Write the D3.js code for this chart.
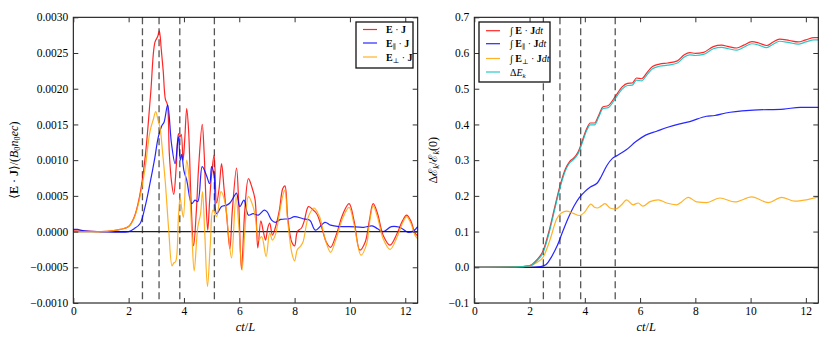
<html>
<script src='https://d3js.org/d3.v7.min.js'></script>
<style>
  body {margin:0; background:white;}
  text {font-family: 'Liberation Serif', 'DejaVu Serif', serif;}
</style>
<body>
<svg id="chart" width=830 height=346></svg>
<script>
// shared axis stuff
var tMax = 12.45;
var tickX = [0, 2, 4, 6, 8, 10, 12];
var markers = [2.5, 3.1, 3.85, 5.1];
var tickLeft = [-0.0010, -0.0005, 0, 0.0005, 0.0010, 0.0015, 0.0020, 0.0025, 0.0030];
var tickRight = [-0.1, 0, 0.1, 0.2, 0.3, 0.4, 0.5, 0.6, 0.7];

// left panel: <E.J>, values in units of 1e-4
var ejTotal = [[0,0.1],[0.5,0.05],[1.0,0],[1.4,0.1],[1.7,0.3],[2.0,0.7],[2.2,2.0],[2.4,5.0],[2.6,10.5],[2.8,19.5],[2.95,26.5],[3.05,27.3],[3.11,28.1],[3.18,25.5],[3.25,22.5],[3.33,18.5],[3.4,17.8],[3.47,11],[3.55,7.0],[3.63,5.2],[3.72,9],[3.8,13.7],[3.85,13.2],[3.9,13.6],[3.97,10],[4.03,13],[4.1,17.2],[4.17,14],[4.25,5],[4.35,-2.0],[4.45,3],[4.53,9],[4.66,15.0],[4.73,11],[4.8,4],[4.86,0.2],[4.93,4.4],[5.0,8],[5.09,10.7],[5.18,4],[5.27,6],[5.36,9.5],[5.45,6],[5.55,2],[5.66,-2.4],[5.75,3],[5.9,8.9],[5.98,4],[6.08,-5.3],[6.2,3],[6.33,7.4],[6.45,6.3],[6.57,4.5],[6.67,-2.3],[6.78,1.5],[6.87,0],[6.95,-1.2],[7.03,0.5],[7.1,1.2],[7.2,-0.5],[7.3,0.5],[7.45,3],[7.57,6],[7.65,6.4],[7.75,2],[7.9,-1.5],[8.0,-2.0],[8.1,0],[8.25,0.5],[8.35,1.5],[8.5,3.5],[8.65,3.1],[8.8,2.5],[9.0,0.3],[9.15,-1.5],[9.3,-2.2],[9.5,-0.5],[9.75,2.5],[9.97,3.9],[10.15,1.5],[10.36,-2.6],[10.55,-1.5],[10.7,1.5],[10.84,3.9],[11.0,2.5],[11.2,-0.5],[11.45,-1.9],[11.7,-0.3],[11.9,1.5],[12.05,2.3],[12.2,1.5],[12.35,-0.2],[12.45,-0.6]];
var ejPar = [[0,0.3],[0.15,0.3],[0.4,0.1],[1.0,0],[2.0,0],[2.2,0.4],[2.41,1.1],[2.59,3.4],[2.77,6.7],[2.95,10.4],[3.07,13.2],[3.2,14.8],[3.28,15.3],[3.41,17.7],[3.55,12.3],[3.68,9.5],[3.8,13.3],[3.87,10],[3.92,10.8],[4.0,8.5],[4.1,7.2],[4.28,3.9],[4.4,4.4],[4.5,4.2],[4.66,9.1],[4.81,7.9],[4.93,6.7],[5.0,9.1],[5.09,7.9],[5.18,2.5],[5.36,3.5],[5.55,3.7],[5.66,4],[5.84,5.1],[5.9,5.4],[6.02,3.5],[6.17,4.4],[6.33,2.3],[6.5,2.5],[6.69,2.3],[6.9,3.0],[7.0,2.8],[7.17,1.6],[7.3,1.3],[7.5,1.7],[7.8,1.8],[8.0,2.1],[8.3,1.8],[8.55,1.6],[8.75,0.2],[9.1,1.3],[9.3,0.9],[9.6,0.7],[10.0,0.7],[10.5,0.6],[10.8,0.8],[11.0,0.4],[11.2,0.0],[11.5,0.7],[11.8,0.6],[12.1,-0.1],[12.3,0.1],[12.45,0.7]];
var ejPerp = [[0,0],[1.0,0],[1.4,0.1],[1.7,0.3],[2.0,0.7],[2.2,1.9],[2.4,4.7],[2.6,9],[2.77,14],[2.9,15.8],[2.98,16.8],[3.07,15.5],[3.13,14.7],[3.23,11],[3.33,6.7],[3.45,0.2],[3.57,-4.8],[3.63,-4.4],[3.7,-4.2],[3.8,2],[3.86,4.7],[3.92,3.2],[3.98,2],[4.1,10],[4.16,8.6],[4.28,0.2],[4.37,-5.5],[4.5,0.6],[4.6,2.5],[4.67,5.6],[4.75,0],[4.85,-7.7],[4.95,-2],[5.05,3],[5.18,2.1],[5.34,5.6],[5.49,4],[5.6,0],[5.72,-3.7],[5.88,4.9],[5.98,1],[6.1,-5.4],[6.2,0],[6.33,4.9],[6.5,3.5],[6.6,1.5],[6.69,-1.2],[6.81,-0.7],[6.97,-3.5],[7.1,-0.2],[7.2,-1.2],[7.3,-0.5],[7.45,2.5],[7.57,5],[7.65,5.8],[7.75,1.5],[7.9,-3],[8.0,-4.1],[8.1,-2.5],[8.2,-2.1],[8.3,-1.5],[8.5,2.1],[8.7,3.3],[8.9,2.1],[9.1,-1],[9.3,-2.9],[9.5,-1],[9.75,2],[9.97,3.4],[10.15,1],[10.4,-3.3],[10.6,-1.8],[10.7,1],[10.84,3.6],[11.0,2],[11.2,-1],[11.45,-2.5],[11.7,-0.8],[11.9,1.2],[12.05,2.1],[12.2,1.2],[12.35,-0.5],[12.45,-1.0]];

// right panel: cumulative energy
var intTotal = [[0,0],[1.5,0.001],[2.0,0.005],[2.25,0.02],[2.5,0.048],[2.7,0.1],[2.9,0.165],[3.1,0.228],[3.3,0.276],[3.45,0.296],[3.6,0.306],[3.75,0.322],[3.9,0.352],[4.05,0.385],[4.2,0.404],[4.35,0.404],[4.5,0.425],[4.65,0.449],[4.85,0.453],[5.1,0.478],[5.35,0.505],[5.55,0.515],[5.72,0.516],[5.87,0.53],[6.05,0.528],[6.25,0.545],[6.45,0.562],[6.7,0.569],[7.0,0.572],[7.35,0.578],[7.6,0.595],[7.8,0.601],[8.0,0.599],[8.3,0.602],[8.65,0.618],[8.95,0.622],[9.2,0.618],[9.5,0.614],[9.75,0.622],[10.05,0.632],[10.3,0.628],[10.58,0.621],[10.8,0.63],[11.05,0.639],[11.4,0.635],[11.72,0.631],[12.0,0.637],[12.3,0.643],[12.45,0.643]];
var intPar = [[0,0],[2.0,0],[2.4,0.002],[2.6,0.008],[2.8,0.03],[3.0,0.06],[3.2,0.1],[3.4,0.138],[3.6,0.17],[3.8,0.195],[4.0,0.212],[4.2,0.225],[4.45,0.236],[4.6,0.255],[4.8,0.285],[5.0,0.305],[5.15,0.312],[5.5,0.329],[5.85,0.352],[6.2,0.37],[6.6,0.381],[7.0,0.392],[7.4,0.401],[7.8,0.408],[8.4,0.423],[8.7,0.425],[9.1,0.432],[10.1,0.44],[11.2,0.443],[11.8,0.448],[12.45,0.448]];
var intPerp = [[0,0],[1.5,0.001],[2.0,0.004],[2.25,0.013],[2.49,0.028],[2.74,0.077],[2.98,0.135],[3.15,0.152],[3.34,0.157],[3.58,0.151],[3.8,0.145],[4.0,0.155],[4.22,0.177],[4.35,0.168],[4.45,0.166],[4.6,0.172],[4.73,0.178],[4.91,0.166],[5.1,0.163],[5.33,0.175],[5.51,0.189],[5.75,0.175],[5.93,0.18],[6.1,0.171],[6.36,0.184],[6.66,0.189],[6.96,0.18],[7.32,0.175],[7.5,0.183],[7.74,0.196],[8.05,0.183],[8.41,0.181],[8.89,0.194],[9.43,0.183],[10.04,0.197],[10.64,0.181],[11.12,0.196],[11.6,0.185],[12.02,0.189],[12.45,0.197]];
var deltaEk = [[0,0],[1.5,0.001],[2.0,0.004],[2.25,0.017],[2.5,0.043],[2.7,0.094],[2.9,0.159],[3.1,0.222],[3.3,0.271],[3.45,0.292],[3.6,0.302],[3.75,0.317],[3.9,0.347],[4.05,0.38],[4.2,0.399],[4.35,0.399],[4.5,0.42],[4.65,0.444],[4.85,0.447],[5.1,0.472],[5.35,0.499],[5.55,0.509],[5.72,0.51],[5.87,0.524],[6.05,0.522],[6.25,0.539],[6.45,0.556],[6.7,0.563],[7.0,0.566],[7.35,0.572],[7.6,0.589],[7.8,0.595],[8.0,0.593],[8.3,0.596],[8.65,0.612],[8.95,0.616],[9.2,0.612],[9.5,0.608],[9.75,0.616],[10.05,0.626],[10.3,0.622],[10.58,0.615],[10.8,0.624],[11.05,0.633],[11.4,0.629],[11.72,0.625],[12.0,0.631],[12.3,0.637],[12.45,0.637]];

// legend labels as pieces: b = bold, i = italic, s = subscript
var leftNames = [
  [{t:"E",b:1},{t:" · "},{t:"J",b:1}],
  [{t:"E",b:1},{t:"∥",s:1},{t:" · "},{t:"J",b:1}],
  [{t:"E",b:1},{t:"⊥",s:1},{t:" · "},{t:"J",b:1}]
];
var rightNames = [
  [{t:"∫ "},{t:"E",b:1},{t:" · "},{t:"J",b:1},{t:"dt",i:1}],
  [{t:"∫ "},{t:"E",b:1},{t:"∥",s:1},{t:" · "},{t:"J",b:1},{t:"dt",i:1}],
  [{t:"∫ "},{t:"E",b:1},{t:"⊥",s:1},{t:" · "},{t:"J",b:1},{t:"dt",i:1}],
  [{t:"Δ"},{t:"E",i:1},{t:"k",i:1,s:1}]
];
var leftYLabel = [{t:"⟨"},{t:"E",b:1},{t:" · "},{t:"J",b:1},{t:"⟩/("},{t:"B",i:1},{t:"0",s:1},{t:"n",i:1},{t:"0",s:1},{t:"ec",i:1},{t:")"}];
var rightYLabel = [{t:"Δℰ"},{t:"k",i:1,s:1},{t:"/ℰ"},{t:"k",i:1,s:1},{t:"(0)"}];

var svg = d3.select("#chart");

function rich(sel, parts, size) {
  parts.forEach(function(p) {
    var ts = sel.append("tspan").text(p.t);
    if (p.b) ts.attr("font-weight", "bold");
    if (p.i) ts.attr("font-style", "italic");
    if (p.s) ts.attr("baseline-shift", "-25%").attr("font-size", size * 0.7);
  });
}

function panel(cfg) {
  var top = 17.3, bottom = 303;
  var x = d3.scaleLinear().domain([0, tMax]).range([cfg.left, cfg.right]);
  var y = d3.scaleLinear().domain([cfg.ticks[0], cfg.ticks[cfg.ticks.length-1]]).range([bottom, top]);
  var g = svg.append("g");

  g.selectAll(".mark").data(markers).enter().append("line")
    .attr("x1", d => x(d)).attr("x2", d => x(d))
    .attr("y1", top).attr("y2", bottom)
    .attr("stroke", "#555").attr("stroke-width", 1.3).attr("stroke-dasharray", "7,4");

  g.append("line").attr("x1", x(0)).attr("x2", x(tMax))
    .attr("y1", y(0)).attr("y2", y(0))
    .attr("stroke", "#222").attr("stroke-width", 1.3);

  var line = d3.line().x(d => x(d[0])).y(d => y(d[1] * cfg.unit)).curve(cfg.curve);
  cfg.series.forEach(function(s) {
    g.append("path").attr("d", line(s.data))
      .attr("fill", "none").attr("stroke", s.color)
      .attr("stroke-width", 1.2).attr("stroke-opacity", 0.85);
  });

  g.append("rect").attr("x", cfg.left).attr("y", top)
    .attr("width", cfg.right - cfg.left).attr("height", bottom - top)
    .attr("fill", "none").attr("stroke", "black").attr("stroke-width", 1);

  var fmt = d3.format(cfg.fmt);
  function style(a) {
    a.select(".domain").remove();
    a.attr("font-family", "'Liberation Serif', serif").attr("font-size", 11.5);
    a.selectAll("line").attr("stroke", "#333");
  }
  g.append("g").attr("transform", "translate(0," + bottom + ")")
    .call(d3.axisBottom(x).tickValues(tickX).tickSize(-5).tickPadding(4).tickFormat(d3.format("d"))).call(style);
  g.append("g").attr("transform", "translate(0," + top + ")")
    .call(d3.axisTop(x).tickValues(tickX).tickSize(-5).tickFormat("")).call(style);
  g.append("g").attr("transform", "translate(" + cfg.left + ",0)")
    .call(d3.axisLeft(y).tickValues(cfg.ticks).tickSize(-5).tickPadding(5).tickFormat(fmt)).call(style);
  g.append("g").attr("transform", "translate(" + cfg.right + ",0)")
    .call(d3.axisRight(y).tickValues(cfg.ticks).tickSize(-5).tickFormat("")).call(style);

  // axis titles
  var xl = g.append("text").attr("x", (cfg.left + cfg.right) / 2).attr("y", 331)
    .attr("text-anchor", "middle").attr("font-size", 12.5);
  rich(xl, [{t:"ct",i:1},{t:"/"},{t:"L",i:1}], 12.5);
  var yl = g.append("text").attr("transform", "translate(" + cfg.ylabX + "," + (top + bottom) / 2 + ") rotate(-90)")
    .attr("text-anchor", "middle").attr("font-size", 12);
  rich(yl, cfg.ylab, 12);

  // legend
  var L = cfg.legend;
  g.append("rect").attr("x", L.x).attr("y", L.y).attr("width", L.w).attr("height", L.h)
    .attr("fill", "white").attr("stroke", "#111").attr("stroke-width", 1.3);
  cfg.series.forEach(function(s, i) {
    var yy = L.rows[i];
    g.append("line").attr("x1", L.x + 7).attr("x2", L.x + 21).attr("y1", yy).attr("y2", yy)
      .attr("stroke", s.color).attr("stroke-width", 1.2).attr("stroke-opacity", 0.85);
    var t = g.append("text").attr("x", L.x + L.tx).attr("y", yy + 3.5).attr("font-size", 10);
    rich(t, s.name, 10);
  });
}

panel({
  left: 73.3, right: 417.7, ticks: tickLeft, unit: 1e-4, fmt: ".4f",
  curve: d3.curveCatmullRom, ylabX: 18, ylab: leftYLabel,
  series: [
    {data: ejTotal, color: "#ff0000", name: leftNames[0]},
    {data: ejPar, color: "#0000ff", name: leftNames[1]},
    {data: ejPerp, color: "#ffa500", name: leftNames[2]}
  ],
  legend: {x: 356, y: 22, w: 57, h: 46, tx: 30, rows: [29.5, 43, 57]}
});

panel({
  left: 474.3, right: 818.3, ticks: tickRight, unit: 1, fmt: ".1f",
  curve: d3.curveMonotoneX, ylabX: 437, ylab: rightYLabel,
  series: [
    {data: intTotal, color: "#ff0000", name: rightNames[0]},
    {data: intPar, color: "#0000ff", name: rightNames[1]},
    {data: intPerp, color: "#ffa500", name: rightNames[2]},
    {data: deltaEk, color: "#00bfbf", name: rightNames[3]}
  ],
  legend: {x: 479, y: 22, w: 71, h: 60, tx: 31, rows: [30.7, 43.7, 58.5, 72]}
});
</script>
</body>
</html>
